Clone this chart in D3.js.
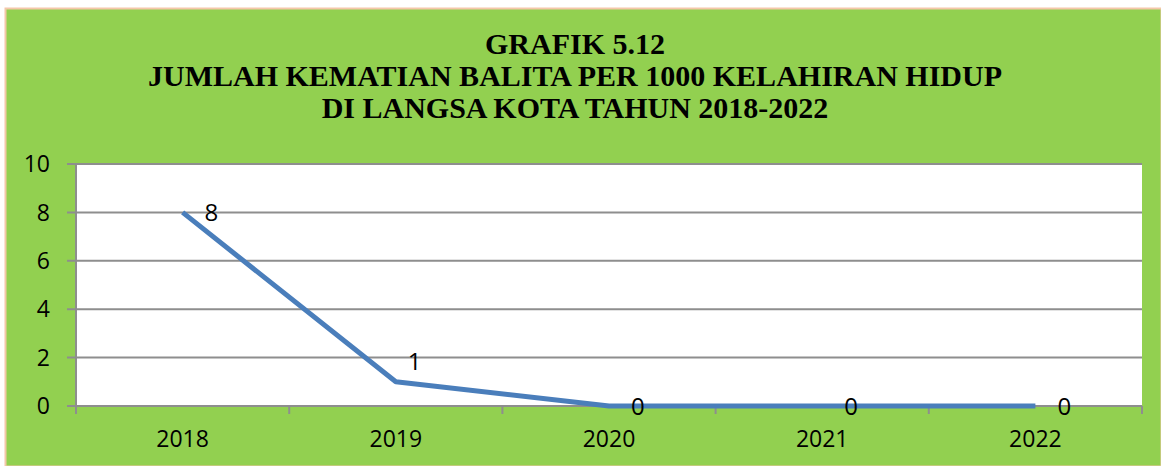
<!DOCTYPE html>
<html><head><meta charset="utf-8">
<script src="https://cdn.jsdelivr.net/npm/d3@7"></script>
<style>html,body{margin:0;padding:0;background:#fff;}svg{display:block;}</style>
</head><body>
<svg id="c" width="1161" height="466"></svg>
<script>
const titleLines = ["GRAFIK 5.12", "JUMLAH KEMATIAN BALITA PER 1000 KELAHIRAN HIDUP", "DI LANGSA KOTA TAHUN 2018-2022"];
const categories = ["2018", "2019", "2020", "2021", "2022"];
const values = [8, 1, 0, 0, 0];
const yTicks = [0, 2, 4, 6, 8, 10];

const svg = d3.select("#c");
const W = 1161, H = 466;
svg.append("rect").attr("x", 5.5).attr("y", 8.5).attr("width", W - 5).attr("height", H - 8)
  .attr("fill", "#92D050").attr("stroke", "#F4C7A9").attr("stroke-width", 2);

const m = {left: 76, right: 1142, top: 164, bottom: 406};
const x = d3.scaleBand().domain(categories).range([m.left, m.right]);
const y = d3.scaleLinear().domain([0, 10]).range([m.bottom, m.top]);

svg.append("rect").attr("x", m.left).attr("y", m.top).attr("width", m.right - m.left).attr("height", m.bottom - m.top).attr("fill", "#fff");

// gridlines
svg.append("g").selectAll("line").data(yTicks).join("line")
  .attr("x1", m.left - 9).attr("x2", m.right).attr("y1", d => y(d)).attr("y2", d => y(d))
  .attr("stroke", "#8e8e8e").attr("stroke-width", 2);

// y axis line
svg.append("line").attr("x1", m.left).attr("x2", m.left).attr("y1", m.top).attr("y2", m.bottom + 8)
  .attr("stroke", "#8e8e8e").attr("stroke-width", 2);

// x ticks at boundaries
const bounds = categories.map(c => x(c) + x.bandwidth());
svg.append("g").selectAll("line").data(bounds).join("line")
  .attr("x1", d => d).attr("x2", d => d).attr("y1", m.bottom).attr("y2", m.bottom + 8)
  .attr("stroke", "#8e8e8e").attr("stroke-width", 2);

const font = "'Open Sans', 'Noto Sans', sans-serif";
svg.append("g").selectAll("text").data(yTicks).join("text")
  .attr("x", 50).attr("y", d => y(d)).attr("dy", "0.36em").attr("text-anchor", "end")
  .attr("font-family", font).attr("font-size", 23).text(d => d);

svg.append("g").selectAll("text").data(categories).join("text")
  .attr("x", d => x(d) + x.bandwidth() / 2).attr("y", 447).attr("text-anchor", "middle")
  .attr("font-family", font).attr("font-size", 23).text(d => d);

const line = d3.line().x((d, i) => x(categories[i]) + x.bandwidth() / 2).y(d => y(d));
svg.append("path").datum(values).attr("d", line).attr("fill", "none")
  .attr("stroke", "#4A7EBB").attr("stroke-width", 5).attr("stroke-linejoin", "round");

// data labels: right of point, except the second one placed above-right
svg.append("g").selectAll("text").data(values).join("text")
  .attr("x", (d, i) => x(categories[i]) + x.bandwidth() / 2 + (i === 1 ? 12 : 22))
  .attr("y", (d, i) => y(d) + (i === 1 ? -12 : 9))
  .attr("text-anchor", "start")
  .attr("font-family", font).attr("font-size", 24).text(d => d);

const tg = svg.append("g");
titleLines.forEach((t, i) => {
  tg.append("text").attr("x", 575).attr("y", 54 + i * 32).attr("text-anchor", "middle")
    .attr("font-family", "'Liberation Serif', 'Times New Roman', serif").attr("font-weight", "bold")
    .attr("font-size", 30).text(t);
});
</script>
</body></html>
